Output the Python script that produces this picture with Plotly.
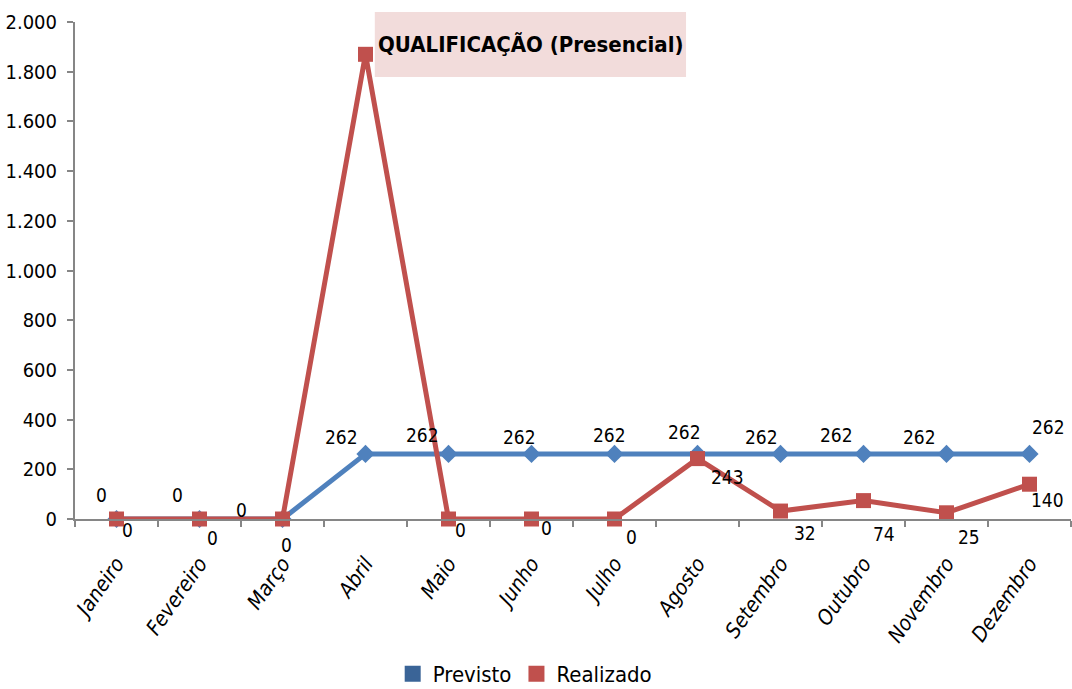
import plotly.graph_objects as go

meses = ["Janeiro", "Fevereiro", "Março", "Abril", "Maio", "Junho", "Julho",
         "Agosto", "Setembro", "Outubro", "Novembro", "Dezembro"]
previsto = [0, 0, 0, 262, 262, 262, 262, 262, 262, 262, 262, 262]
realizado = [0, 0, 0, 1870, 0, 0, 0, 243, 32, 74, 25, 140]
y_ticks = [0, 200, 400, 600, 800, 1000, 1200, 1400, 1600, 1800, 2000]

# label offsets (pixels)
prev_dx = [-15, -22, -41, -24, -26, -12, -5, -13, -19, -27, -27, 19]
prev_dy = [24, 24, 9, 17, 19, 17, 19, 22, 17, 19, 17, 27]
real_dx = [11, 13, 4, 0, 12, 15, 17, 30, 24, 20, 22, 18]
real_dy = [-11, -19, -26, 0, -11, -9, -18, -18, -22, -33, -24, -16]
real_show = [True, True, True, False, True, True, True, True, True, True, True, True]

FONT = "DejaVu Sans Condensed, DejaVu Sans, sans-serif"
BLUE = "#4F81BD"
RED = "#C0504D"

fig = go.Figure()
fig.add_trace(go.Scatter(
    x=meses, y=previsto, mode="lines+markers", name="Previsto",
    line=dict(color=BLUE, width=5),
    marker=dict(symbol="diamond", size=14, color=BLUE),
    showlegend=False, cliponaxis=False))
fig.add_trace(go.Scatter(
    x=meses, y=realizado, mode="lines+markers", name="Realizado",
    line=dict(color=RED, width=5),
    marker=dict(symbol="square", size=15, color=RED),
    showlegend=False, cliponaxis=False))
# legend swatches
fig.add_trace(go.Scatter(x=[None], y=[None], mode="markers", name="Previsto",
                         marker=dict(symbol="square", size=18, color="#3A6497")))
fig.add_trace(go.Scatter(x=[None], y=[None], mode="markers", name="Realizado",
                         marker=dict(symbol="square", size=18, color=RED)))

for i, m in enumerate(meses):
    fig.add_annotation(x=m, y=previsto[i], text=str(previsto[i]), showarrow=False,
                       xshift=prev_dx[i], yshift=prev_dy[i],
                       font=dict(family=FONT, size=19, color="black"))
    if real_show[i]:
        fig.add_annotation(x=m, y=realizado[i], text=str(realizado[i]), showarrow=False,
                           xshift=real_dx[i], yshift=real_dy[i],
                           font=dict(family=FONT, size=19, color="black"))

# title box
fig.add_shape(type="rect", xref="paper", yref="paper",
              x0=0.301, x1=0.6135, y0=0.8893, y1=1.0201,
              fillcolor="#F2DCDB", line=dict(width=0), layer="below")
fig.add_annotation(
    text="<b>QUALIFICAÇÃO (Presencial)</b>", xref="paper", yref="paper",
    x=0.4578, y=0.9547, xanchor="center", yanchor="middle", showarrow=False,
    font=dict(family=FONT, size=22, color="black"))

fig.update_layout(
    width=1072, height=689,
    margin=dict(l=75, r=1, t=22, b=170, autoexpand=False),
    paper_bgcolor="white", plot_bgcolor="white",
    separators=",.",
    font=dict(family=FONT, color="black"),
    legend=dict(orientation="h", x=0.452, xanchor="center", y=-0.312, yanchor="middle",
                font=dict(family=FONT, size=22), itemwidth=30),
)
fig.update_xaxes(
    type="category", range=[-0.5, 11.5], showgrid=False, automargin=False,
    tickvals=meses, ticktext=["<i>" + m + "</i>" for m in meses],
    showline=True, linecolor="#868686", linewidth=2,
    ticks="outside", tickson="boundaries", ticklen=6, tickcolor="#868686", tickwidth=2,
    tickangle=-55, ticklabelstandoff=22,
    tickfont=dict(family=FONT, size=21, style="italic"),
)
fig.update_yaxes(
    range=[0, 2000], tickvals=y_ticks, tickformat=",d", showgrid=False, automargin=False,
    showline=True, linecolor="#868686", linewidth=2, zeroline=False,
    ticks="outside", ticklen=6, tickcolor="#868686", tickwidth=2,
    ticklabelstandoff=6,
    tickfont=dict(family=FONT, size=20),
)

fig.write_html("out.html", config={"displayModeBar": False},
               post_script="document.body.style.margin='0';")
